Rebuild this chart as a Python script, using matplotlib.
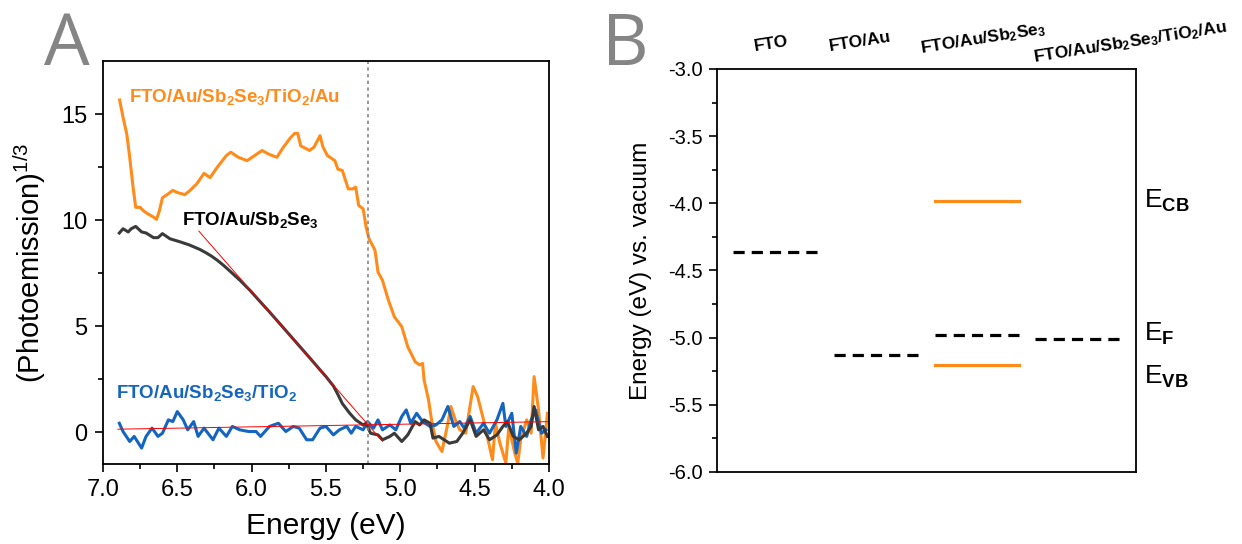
import matplotlib
matplotlib.use("Agg")
import matplotlib.pyplot as plt
import matplotlib.transforms as mtransforms

plt.rcParams['font.family'] = ['Liberation Sans', 'DejaVu Sans']
plt.rcParams['axes.unicode_minus'] = False
plt.rcParams['mathtext.fontset'] = 'custom'
plt.rcParams['mathtext.rm'] = 'Liberation Sans'
plt.rcParams['mathtext.bf'] = 'Liberation Sans:bold'
plt.rcParams['mathtext.it'] = 'Liberation Sans:italic'
plt.rcParams['mathtext.default'] = 'regular'

# ---- panel A data (photoemission^1/3 vs energy) ----
orange_e = [6.888, 6.865, 6.84, 6.82, 6.80, 6.78, 6.75, 6.73, 6.70, 6.66, 6.64, 6.62, 6.60, 6.56,
            6.53, 6.50, 6.45, 6.42, 6.37, 6.32, 6.28, 6.23, 6.17, 6.14, 6.09, 6.03, 5.98, 5.93,
            5.88, 5.83, 5.79, 5.74, 5.71, 5.69, 5.67, 5.61, 5.58, 5.54, 5.52, 5.49, 5.44, 5.42,
            5.39, 5.35, 5.32, 5.30, 5.28, 5.25, 5.23, 5.21, 5.17, 5.15, 5.12, 5.08, 5.04, 4.99,
            4.95, 4.90, 4.87, 4.85, 4.84, 4.81, 4.79, 4.76, 4.72, 4.68, 4.66, 4.63, 4.60, 4.56,
            4.51, 4.48, 4.44, 4.41, 4.38, 4.36, 4.33, 4.29, 4.27, 4.23, 4.21, 4.19, 4.15, 4.12,
            4.10, 4.07, 4.04, 4.01]
orange_y = [15.66, 14.85, 14.06, 12.96, 11.7, 10.6, 10.6, 10.45, 10.3, 10.14, 10.03, 10.45, 11.05, 11.24,
            11.4, 11.3, 11.2, 11.36, 11.7, 12.2, 12.0, 12.5, 13.04, 13.2, 12.96, 12.8, 13.04, 13.28,
            13.09, 12.96, 13.4, 13.87, 14.09, 14.09, 13.5, 13.28, 13.44, 13.98, 13.44, 13.04, 12.8, 12.4,
            12.34, 11.47, 11.47, 11.55, 10.69, 10.53, 9.67, 9.12, 8.57, 7.55, 7.16, 6.22, 5.44, 4.97,
            4.03, 3.32, 3.17, 3.24, 2.46, 1.52, 0.58, -0.44, -0.91, 0.42, 1.21, 0.58, 0.11, -0.05,
            2.15, 1.68, 0.58, -0.36, -1.3, 0.42, -0.52, -1.46, 0.27, -0.99, -1.46, -0.36, 0.58, -0.05,
            2.62, 1.05, -1.22, 0.89]

black_e = [6.89, 6.865, 6.83, 6.81, 6.78, 6.74, 6.71, 6.66, 6.63, 6.60, 6.55, 6.48, 6.42, 6.35,
           6.31, 6.27, 6.23, 6.19, 6.15, 6.08, 6.01, 5.95, 5.88, 5.81, 5.74, 5.68, 5.61, 5.54,
           5.50, 5.45, 5.42, 5.39, 5.34, 5.30, 5.25, 5.23, 5.20, 5.15, 5.12, 5.07, 5.04, 4.99,
           4.95, 4.90, 4.87, 4.84, 4.80, 4.78, 4.74, 4.67, 4.62, 4.58, 4.53, 4.49, 4.44, 4.40,
           4.35, 4.31, 4.28, 4.24, 4.20, 4.15, 4.12, 4.10, 4.07, 4.04, 4.01]
black_y = [9.39, 9.59, 9.44, 9.59, 9.70, 9.44, 9.39, 9.17, 9.17, 9.36, 9.12, 8.97, 8.83, 8.62,
           8.47, 8.30, 8.10, 7.87, 7.62, 7.17, 6.68, 6.21, 5.67, 5.11, 4.55, 4.07, 3.51, 2.94,
           2.62, 2.18, 1.78, 1.35, 0.89, 0.58, 0.34, 0.42, -0.05, -0.13, -0.36, -0.2, -0.05, -0.44,
           -0.13, 0.5, 0.34, 0.58, 0.42, -0.28, -0.2, -0.52, -0.44, -0.05, 0.58, -0.2, 0.11, -0.36,
           -0.13, 0.27, 0.5, -0.2, -0.36, -0.05, 0.27, 1.21, 0.11, 0.27, -0.2]

blue_e = [6.89, 6.865, 6.82, 6.79, 6.74, 6.71, 6.67, 6.63, 6.60, 6.56, 6.53, 6.50, 6.46, 6.43,
          6.39, 6.36, 6.32, 6.26, 6.22, 6.17, 6.13, 6.08, 6.02, 5.97, 5.94, 5.88, 5.82, 5.77,
          5.72, 5.68, 5.63, 5.59, 5.54, 5.50, 5.45, 5.41, 5.36, 5.33, 5.30, 5.25, 5.22, 5.18,
          5.15, 5.12, 5.07, 5.03, 4.99, 4.96, 4.93, 4.89, 4.85, 4.80, 4.76, 4.72, 4.68, 4.64,
          4.60, 4.57, 4.53, 4.49, 4.44, 4.40, 4.35, 4.31, 4.29, 4.25, 4.22, 4.19, 4.15, 4.12,
          4.09, 4.05, 4.02]
blue_y = [0.42, 0.03, -0.44, -0.2, -0.75, -0.2, 0.19, -0.2, -0.05, 0.58, 0.5, 0.97, 0.58, 0.11,
          0.5, -0.2, 0.19, -0.36, 0.19, -0.2, 0.27, 0.11, 0.03, 0.03, -0.2, 0.27, 0.42, 0.03,
          0.27, 0.19, -0.36, -0.36, 0.19, 0.27, -0.13, 0.11, 0.27, -0.05, 0.27, 0.11, 0.5, 0.19,
          0.58, 0.11, 0.34, 0.11, 0.74, 1.05, 0.42, 0.89, 0.5, 0.27, 0.34, 0.58, 1.21, 0.27,
          0.5, 0.19, 0.74, -0.05, 0.42, -0.05, 0.58, 1.36, 0.27, 0.89, -0.99, 0.27, -0.2, 0.58,
          1.05, -0.05, 0.11]

# linear fits (tangent to onset and baseline)
tangent_e = [6.355, 5.12]
tangent_y = [9.48, -0.43]
baseline_e = [6.9, 3.97]
baseline_y = [0.14, 0.5]
threshold = 5.22

# ---- panel B data (energy levels vs vacuum, eV) ----
samples = ['FTO', 'FTO/Au', 'FTO/Au/Sb$_2$Se$_3$', 'FTO/Au/Sb$_2$Se$_3$/TiO$_2$/Au']
sample_pos = [1, 2, 3, 4]
fermi_levels = [-4.36, -5.13, -4.98, -5.01]
cb_pos = 3
cb_level = -3.98
vb_level = -5.20

ORANGE = '#ff8c1a'
BLUE = '#1565c0'
DARK = '#3a3a3a'

fig = plt.figure(figsize=(12.42, 5.44), dpi=100)

# ---------------- panel A ----------------
axA = fig.add_axes([0.0829, 0.1471, 0.3591, 0.7408])
axA.plot(orange_e, orange_y, color=ORANGE, lw=2.2)
axA.plot(blue_e, blue_y, color=BLUE, lw=2.2)
axA.plot(black_e, black_y, color=DARK, lw=2.2)
axA.plot(tangent_e, tangent_y, color='red', lw=0.7)
axA.plot(baseline_e, baseline_y, color='red', lw=0.7)
axA.axvline(threshold, color='#888888', lw=1.2, ls=(0, (2, 2)))

axA.set_xlim(7.0, 4.0)
axA.set_ylim(-1.5, 17.5)
axA.set_xticks([7.0, 6.5, 6.0, 5.5, 5.0, 4.5, 4.0])
axA.set_xticks([6.75, 6.25, 5.75, 5.25, 4.75, 4.25], minor=True)
axA.set_yticks([0, 5, 10, 15])
axA.set_yticks([2.5, 7.5, 12.5], minor=True)
axA.tick_params(which='major', direction='out', length=6, width=1.2, labelsize=17, pad=5)
axA.tick_params(which='minor', direction='out', length=3.5, width=1.2)
for s in axA.spines.values():
    s.set_linewidth(1.3)
axA.set_xlabel('Energy (eV)', fontsize=21.5, labelpad=8)
axA.set_ylabel('(Photoemission)$^{1/3}$', fontsize=21, labelpad=10)

axA.text(6.825, 15.8, 'FTO/Au/Sb$_2$Se$_3$/TiO$_2$/Au', color=ORANGE, fontsize=13.5,
         fontweight='bold', ha='left', va='center')
axA.text(6.47, 10.0, 'FTO/Au/Sb$_2$Se$_3$', color='black', fontsize=13.5,
         fontweight='bold', ha='left', va='center')
axA.text(6.91, 1.85, 'FTO/Au/Sb$_2$Se$_3$/TiO$_2$', color=BLUE, fontsize=13.5,
         fontweight='bold', ha='left', va='center')

fig.text(44 / 1242, 1 - 65 / 544, 'A', fontsize=52, color='#858585',
         family='Open Sans', ha='left', va='baseline')

# ---------------- panel B ----------------
axB = fig.add_axes([0.5773, 0.1324, 0.3374, 0.7408])
half = 0.42
for x, ef in zip(sample_pos, fermi_levels):
    axB.plot([x - half, x + half], [ef, ef], color='black', lw=2.3, ls=(0, (3.5, 2.2)))
axB.plot([cb_pos - half, cb_pos + half], [cb_level, cb_level], color=ORANGE, lw=2.3)
axB.plot([cb_pos - half, cb_pos + half], [vb_level, vb_level], color=ORANGE, lw=2.3)

axB.set_xlim(0.42, 4.58)
axB.set_ylim(-6.0, -3.0)
axB.set_xticks([])
axB.set_yticks([-6.0, -5.5, -5.0, -4.5, -4.0, -3.5, -3.0])
axB.set_yticks([-5.75, -5.25, -4.75, -4.25, -3.75, -3.25], minor=True)
axB.yaxis.set_major_formatter(matplotlib.ticker.FormatStrFormatter('%.1f'))
axB.tick_params(which='major', direction='out', length=6, width=1.2, labelsize=14.5, pad=4)
axB.tick_params(which='minor', direction='out', length=3.5, width=1.2)
for s in axB.spines.values():
    s.set_linewidth(1.3)
axB.set_ylabel('Energy (eV) vs. vacuum', fontsize=17.5, labelpad=12)

# sample labels, slightly rotated above the frame
trans = mtransforms.blended_transform_factory(axB.transData, axB.transAxes)
label_x = [0.96, 1.84, 3.06, 4.52]
label_y = [1.062, 1.069, 1.074, 1.067]
for lx, ly, name in zip(label_x, label_y, samples):
    axB.text(lx, ly, name, transform=trans, fontsize=12.5, fontweight='bold',
             rotation=9, rotation_mode='anchor', ha='center', va='center')

# band labels on the right
trans2 = mtransforms.blended_transform_factory(axB.transAxes, axB.transData)
axB.text(1.02, -4.035, 'E$_{\\mathbf{CB}}$', transform=trans2, fontsize=19, ha='left', va='baseline')
axB.text(1.02, -5.02, 'E$_{\\mathbf{F}}$', transform=trans2, fontsize=19, ha='left', va='baseline')
axB.text(1.02, -5.34, 'E$_{\\mathbf{VB}}$', transform=trans2, fontsize=19, ha='left', va='baseline')

fig.text(602 / 1242, 1 - 65 / 544, 'B', fontsize=52, color='#858585',
         family='Open Sans', ha='left', va='baseline')

fig.savefig('out.png', dpi=100)
